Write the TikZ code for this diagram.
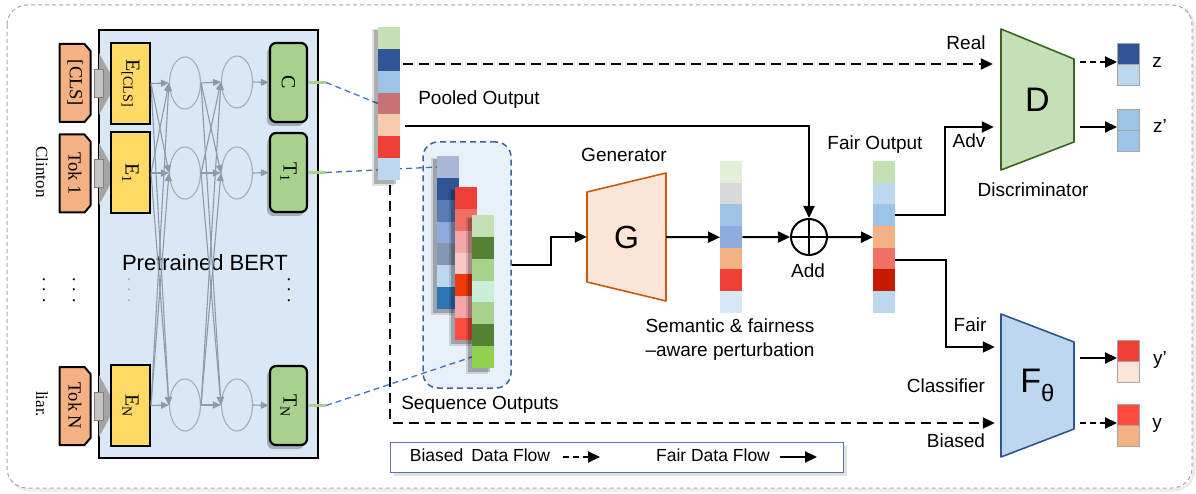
\documentclass[tikz,border=0pt]{standalone}
\usepackage{fontspec}
\setmainfont{Liberation Sans}
\newfontfamily\serif{Liberation Serif}
\usetikzlibrary{arrows.meta,shapes.geometric,calc}
\definecolor{bertbg}{HTML}{DAE7F4}
\definecolor{tokfill}{HTML}{F4B183}
\definecolor{eyel}{HTML}{FFD966}
\definecolor{cgreen}{HTML}{A9D18E}
\definecolor{netgray}{HTML}{8E9AA8}
\definecolor{ellgray}{HTML}{A3ADB8}
\definecolor{bdash}{HTML}{4472C4}
\definecolor{seqfill}{HTML}{E8F0F9}
\definecolor{seqline}{HTML}{3F63A0}
\definecolor{gfill}{HTML}{FBE5D6}
\definecolor{gline}{HTML}{C55A11}
\definecolor{dfill}{HTML}{C5E0B4}
\definecolor{dline}{HTML}{3B6324}
\definecolor{ffill}{HTML}{BDD7EE}
\definecolor{fline}{HTML}{2F5597}
\definecolor{legline}{HTML}{5B77AE}
\definecolor{framec}{HTML}{A6A6A6}
\definecolor{cellgray}{HTML}{A6A6A6}
\definecolor{blkdark}{HTML}{7F7F7F}
\definecolor{blkmid}{HTML}{A5A5A5}
\definecolor{blklight}{HTML}{C4C4C4}
\definecolor{cA}{HTML}{C5E0B4}
\definecolor{cB}{HTML}{2F5597}
\definecolor{cC}{HTML}{9DC3E6}
\definecolor{cD}{HTML}{C97474}
\definecolor{cE}{HTML}{F8CBAD}
\definecolor{cF}{HTML}{EE4035}
\definecolor{cG}{HTML}{BDD7EE}
\definecolor{sAa}{HTML}{A9B8D6}
\definecolor{sAc}{HTML}{5B7DB5}
\definecolor{sAd}{HTML}{8FAADC}
\definecolor{sAe}{HTML}{8497B0}
\definecolor{sAg}{HTML}{2E75B6}
\definecolor{sBb}{HTML}{F07067}
\definecolor{sBc}{HTML}{F4A7A7}
\definecolor{sBd}{HTML}{F8C8C4}
\definecolor{sBe}{HTML}{F03A0C}
\definecolor{sBg}{HTML}{FF4C3F}
\definecolor{sCb}{HTML}{548235}
\definecolor{sCd}{HTML}{C9F0D6}
\definecolor{sCg}{HTML}{92D050}
\definecolor{pA}{HTML}{E2F0D9}
\definecolor{pB}{HTML}{D9D9D9}
\definecolor{pE}{HTML}{F4B183}
\definecolor{pG}{HTML}{DAE8F5}
\definecolor{fF}{HTML}{C91A00}

\newcommand\vbar[5]{%
  \fill[black, opacity=0.12] (#2-6,#3+2) rectangle ++(22,7*#4+4);
  \fill[black, opacity=0.22] (#2-4,#3+3) rectangle ++(22,7*#4+1);
  \node[vecn, minimum height={7*#4pt}, anchor=north west] (#1) at (#2,#3) {};
  \foreach \c [count=\i from 0] in {#5} {\fill[\c] (#2,#3+\i*#4) rectangle ++(22,#4);}%
}
\newcommand\obar[4]{%
  \node[outn, anchor=north west] (#1) at (#2,#3) {};
  \foreach \c [count=\i from 0] in {#4} {\filldraw[fill=\c, draw=cellgray, line width=0.8pt] (#2,#3+\i*21) rectangle ++(22,21);}%
}
\newcommand\tokshape[2]{%
  \filldraw[fill=tokfill, line width=2pt, line join=round] (#1-15.5,#2-39) -- (#1+9.5,#2-39) -- (#1+15.5,#2-32) -- (#1+15.5,#2+32) -- (#1+9.5,#2+39) -- (#1-15.5,#2+39) -- cycle;
}
\newcommand\blkarrow[1]{%
  \fill[blkmid] (99,#1-31) -- (116,#1) -- (99,#1+31) -- cycle;
  \filldraw[fill=blklight, draw=blkdark, line width=1pt] (94,#1-14) rectangle (103,#1+14);
}

\begin{document}
\begin{tikzpicture}[x=1pt,y=-1pt,
  flow/.style={line width=2pt, -{Triangle[length=12pt,width=11pt]}},
  bflow/.style={flow, dash pattern=on 10pt off 6pt},
  net/.style={draw=netgray, line width=1.1pt, -{Triangle[length=8pt,width=7pt]}},
  lbl/.style={font=\fontsize{19}{24}\selectfont, inner sep=0pt, text height=13.5pt, text depth=4pt},
  leglbl/.style={font=\fontsize{17.5}{20}\selectfont, inner sep=0pt, text height=12.5pt, text depth=3.5pt},
  serifl/.style={font=\serif\fontsize{18}{20}\selectfont, inner sep=0pt},
  ebox/.style={draw, line width=2pt, fill=eyel, minimum width=39pt, minimum height=81pt, inner sep=0pt, font=\serif\fontsize{20}{22}\selectfont},
  cbox/.style={draw, line width=2.2pt, fill=cgreen, rounded corners=6pt, minimum width=37pt, minimum height=79pt, inner sep=0pt, font=\serif\fontsize{20}{22}\selectfont,
    preaction={fill=black, opacity=0.25, transform canvas={xshift=-3pt, yshift=-4pt}}},
  ell/.style={ellipse, draw=ellgray, line width=1.1pt, minimum width=31pt, minimum height=52pt, inner sep=0pt},
  tokn/.style={minimum width=31pt, minimum height=78pt, inner sep=0pt, font=\serif\fontsize{18.5}{20}\selectfont},
  vecn/.style={minimum width=22pt, inner sep=0pt},
  outn/.style={minimum width=22pt, minimum height=42pt, inner sep=0pt},
  stub/.style={draw=cgreen, line width=3pt},
  bline/.style={draw=bdash, line width=1.3pt, dash pattern=on 6pt off 4pt},
]
\useasboundingbox (0,0) rectangle (1196,494);

% outer frame
\draw[black!7, line width=3pt, rounded corners=20pt] (9,7) rectangle (1194,490);
\draw[framec, line width=1pt, dash pattern=on 4pt off 3pt, rounded corners=20pt, fill=white] (7,5) rectangle (1192,488);

% BERT
\node[draw, line width=2pt, fill=bertbg, minimum width=219pt, minimum height=428pt, inner sep=0pt] (bert) at (208.5,244) {};
\node[font=\fontsize{22}{24}\selectfont, inner sep=0pt] (lBERT) at (205,263) {Pretrained BERT};

\blkarrow{84}
\blkarrow{174}
\blkarrow{406}

\tokshape{75}{83}
\node[tokn] (tC) at (75,83) {\rotatebox{-90}{[CLS]}};
\tokshape{75}{173.5}
\node[tokn] (t1) at (75,173.5) {\rotatebox{-90}{Tok 1}};
\tokshape{75}{406}
\node[tokn] (tN) at (75,406) {\rotatebox{-90}{Tok N}};

\node[serifl, font=\serif\fontsize{17}{19}\selectfont] (wClinton) at (42,172) {\rotatebox{-90}{Clinton}};
\node[serifl, font=\serif\fontsize{17}{19}\selectfont] (wLiar) at (42,404) {\rotatebox{-90}{liar.}};
\node[serifl] (dots1) at (44,290) {\rotatebox{-90}{. . .}};
\node[serifl] (dots2) at (74,290) {\rotatebox{-90}{. . .}};
\node[serifl, text=ellgray] (dots3) at (129,290) {\rotatebox{-90}{. . .}};
\node[serifl] (dots4) at (289,290) {\rotatebox{-90}{. . .}};

\node[ebox] (EC) at (130.5,83.5) {\rotatebox{-90}{E\textsubscript{[CLS]}}};
\node[ebox] (E1) at (130.5,173) {\rotatebox{-90}{E\textsubscript{1}}};
\node[ebox] (EN) at (130.5,405.5) {\rotatebox{-90}{E\textsubscript{N}}};

\node[ell] (a1) at (185,83) {};
\node[ell] (a2) at (185,173) {};
\node[ell] (aN) at (185,405) {};
\node[ell] (b1) at (237,82) {};
\node[ell] (b2) at (237,173) {};
\node[ell] (bN) at (237,405) {};

\foreach \s in {EC,E1,EN} \foreach \t in {a1,a2,aN} \draw[net] (\s.east) -- (\t.west);
\foreach \s in {a1,a2,aN} \foreach \t in {b1,b2,bN} \draw[net] (\s.east) -- (\t.west);

\node[cbox] (C) at (288.5,82.5) {\rotatebox{-90}{C}};
\node[cbox] (T1) at (288.5,172.5) {\rotatebox{-90}{T\textsubscript{1}}};
\node[cbox] (TN) at (288.5,405.5) {\rotatebox{-90}{T\textsubscript{N}}};
\draw[net] (b1.east) -- (C.west);
\draw[net] (b2.east) -- (T1.west);
\draw[net] (bN.east) -- (TN.west);

\draw[stub] (C.east) -- ++(18,0) coordinate (cS);
\draw[stub] (T1.east) -- ++(18,0) coordinate (t1S);
\draw[stub] (TN.east) -- ++(18,0) coordinate (tNS);

% sequence box
\node[draw=seqline, fill=seqfill, line width=1.5pt, dash pattern=on 6pt off 4pt, rounded corners=15pt, minimum width=88pt, minimum height=246pt, inner sep=0pt] (seq) at (467,265) {};

\coordinate (poolL) at (378,103.5);
\coordinate (s1L) at (437,167);
\coordinate (s3L) at (472,357);
\draw[bline] (cS) -- (poolL);
\draw[bline] (t1S) -- (s1L);
\draw[bline] (tNS) -- (s3L);

\vbar{pool}{378}{27}{21.86}{cA,cB,cC,cD,cE,cF,cG}
\vbar{sq1}{437}{156}{21.86}{sAa,cB,sAc,sAd,sAe,cG,sAg}
\vbar{sq2}{455}{187}{21.86}{cF,sBb,sBc,sBd,sBe,sBc,sBg}
\vbar{sq3}{472}{215}{21.86}{cA,sCb,cgreen,sCd,cgreen,sCb,sCg}

\node[lbl] (lPool) at (479,100) {Pooled Output};
\node[lbl] (lSeq) at (480,405) {Sequence Outputs};

% Generator
\filldraw[fill=gfill, draw=gline, line width=1.6pt, line join=round] (587,192) -- (666,173) -- (666,301) -- (587,282) -- cycle;
\node[font=\fontsize{32}{34}\selectfont, minimum width=79pt, minimum height=128pt, inner sep=0pt] (G) at (626.5,237) {G};
\node[lbl] (lGen) at (624,157) {Generator};

\node[vecn, minimum height=152pt, anchor=north west] (pert) at (720,161) {};
\foreach \c [count=\i from 0] in {pA,pB,cC,sAd,pE,cF,pG} {\fill[\c] (720,161+\i*21.7) rectangle ++(22,21.7);}
\node[vecn, minimum height=152pt, anchor=north west] (fair) at (873,161) {};
\foreach \c [count=\i from 0] in {cA,cG,cC,pE,sBb,fF,cG} {\fill[\c] (873,161+\i*21.7) rectangle ++(22,21.7);}

\node[circle, draw, line width=2pt, minimum size=36pt, inner sep=0pt] (add) at (809,237) {};
\draw[line width=2pt] (add.north) -- (add.south) (add.west) -- (add.east);
\node[lbl] (lAdd) at (808,273) {Add};
\node[lbl] (lFair) at (875,145) {Fair Output};
\node[lbl, align=center] (lSem) at (730,352) {Semantic \& fairness\\–aware perturbation};

% Discriminator
\filldraw[fill=dfill, draw=dline, line width=1.6pt, line join=round] (1001,29) -- (1074,59) -- (1074,142) -- (1001,170) -- cycle;
\node[font=\fontsize{34}{36}\selectfont, minimum width=73pt, minimum height=141pt, inner sep=0pt] (D) at (1037.5,99.5) {D};
\node[lbl] (lDisc) at (1033,192) {Discriminator};

% Classifier
\filldraw[fill=ffill, draw=fline, line width=1.6pt, line join=round] (1001,314) -- (1074,342) -- (1074,429) -- (1001,457) -- cycle;
\node[font=\fontsize{34}{36}\selectfont, minimum width=73pt, minimum height=143pt, inner sep=0pt] (F) at (1037.5,385.5) {F\textsubscript{θ}};
\node[lbl] (lCls) at (946,388) {Classifier};

\obar{z}{1117}{43}{cB,cG}
\obar{zp}{1117}{109}{cC,cC}
\obar{yp}{1117}{340}{cF,gfill}
\obar{yy}{1117}{404}{sBg,pE}
\node[lbl] (lz) at (1157,63) {z};
\node[lbl] (lzp) at (1160,128) {z’};
\node[lbl] (lyp) at (1160,360) {y’};
\node[lbl] (ly) at (1157,424) {y};

% flows
\draw[bflow] ($(pool.east|-0,64)+(3,0)$) -- ($(D.west|-0,64)+(-8,0)$);
\node[lbl] (lReal) at (966,45) {Real};
\draw[flow] ($(pool.east|-0,126)+(5,0)$) -| (add.north);
\draw[flow] (seq.east) -- ++(39,0) |- (G.west);
\draw[flow] (G.east) -- (pert.west);
\draw[flow] (pert.east) -- (add.west);
\draw[flow] (add.east) -- (fair.west);
\draw[flow] (fair.east|-0,215) -- ++(50,0) |- ($(D.west|-0,127)+(-7,0)$);
\node[lbl] (lAdv) at (969,143) {Adv};
\draw[flow] (fair.east|-0,260) -- ++(51,0) |- ($(F.west|-0,347)+(-6,0)$);
\node[lbl] (lFairIn) at (970,327) {Fair};
\draw[bflow] ($(pool.south)+(1,5)$) |- ($(F.west|-0,423)+(-6,0)$);
\node[lbl] (lBiased) at (956,443) {Biased};

\draw[bflow, dash pattern=on 6pt off 4pt] ($(D.east|-0,62)+(6,0)$) -- (z.west|-0,62);
\draw[flow] ($(D.east|-0,127)+(6,0)$) -- (zp.west|-0,127);
\draw[flow] ($(F.east|-0,358)+(6,0)$) -- (yp.west|-0,358);
\draw[bflow, dash pattern=on 6pt off 4pt] ($(F.east|-0,423)+(6,0)$) -- (yy.west|-0,423);

% legend
\fill[black, opacity=0.12] (394,446) rectangle (847,476);
\node[draw=legline, line width=1pt, fill=white, minimum width=453pt, minimum height=30pt, inner sep=0pt] (legend) at (616.5,457) {};
\node[leglbl] (lBias) at (480,457) {Biased\hspace{3pt} Data Flow};
\node[leglbl] (lFairF) at (713,457) {Fair Data Flow};
\coordinate (lb1) at (563,457);
\coordinate (lb2) at (600,457);
\coordinate (lf1) at (780,457);
\coordinate (lf2) at (817,457);
\draw[bflow, dash pattern=on 6pt off 4pt] (lb1) -- (lb2);
\draw[flow] (lf1) -- (lf2);
\end{tikzpicture}
\end{document}
